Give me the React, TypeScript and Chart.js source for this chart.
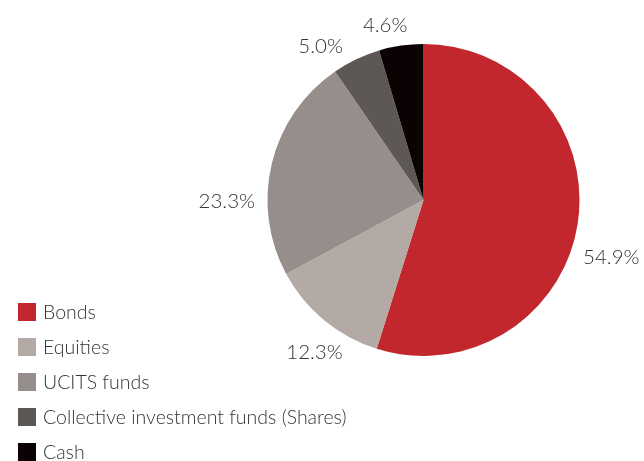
import React, { useEffect, useRef } from "react";
import { Chart, registerables } from "chart.js";

Chart.register(...registerables);

const categories = ["Bonds", "Equities", "UCITS funds", "Collective investment funds (Shares)", "Cash"];
const shares = [54.9, 12.3, 23.3, 5.0, 4.6];
const valueLabels = ["54.9%", "12.3%", "23.3%", "5.0%", "4.6%"];
const sliceColors = ["#C1272D", "#B3A9A5", "#968E8A", "#5D5756", "#0A0203"];

const FONT = "Lato, 'Open Sans', sans-serif";
const TEXT_COLOR = "#333333";
// per-label offsets (px) from the point at radius + 34 along each slice's mid-angle
const LABEL_NUDGE: [number, number][] = [
  [0, 29],
  [12, 6],
  [-12, 46],
  [-21, 18],
  [-11, 13],
];

const labelPlugin = {
  id: "outsideLabels",
  afterDatasetsDraw(chart: any) {
    const ctx = chart.ctx;
    const meta = chart.getDatasetMeta(0);
    ctx.save();
    ctx.font = `300 20.5px ${FONT}`;
    ctx.fillStyle = TEXT_COLOR;
    ctx.textAlign = "center";
    ctx.textBaseline = "middle";
    meta.data.forEach((arc: any, i: number) => {
      const { x, y, startAngle, endAngle, outerRadius } = arc.getProps(
        ["x", "y", "startAngle", "endAngle", "outerRadius"],
        true
      );
      const mid = (startAngle + endAngle) / 2;
      const r = outerRadius + 34;
      const [dx, dy] = LABEL_NUDGE[i] || [0, 0];
      ctx.fillText(valueLabels[i], x + Math.cos(mid) * r + dx, y + Math.sin(mid) * r + dy);
    });
    ctx.restore();
  },
};

const legendPlugin = {
  id: "customLegend",
  afterDraw(chart: any) {
    const ctx = chart.ctx;
    const colors = chart.data.datasets[0].backgroundColor;
    ctx.save();
    ctx.font = `300 19.5px ${FONT}`;
    ctx.textAlign = "left";
    ctx.textBaseline = "middle";
    (chart.data.labels as string[]).forEach((lab, i) => {
      const cy = 312 + i * 35;
      ctx.fillStyle = colors[i];
      ctx.fillRect(18, cy - 9, 18, 18);
      ctx.fillStyle = TEXT_COLOR;
      ctx.fillText(lab, 43, cy + 1);
    });
    ctx.restore();
  },
};

export default function App() {
  const ref = useRef<HTMLCanvasElement | null>(null);
  useEffect(() => {
    document.body.style.margin = "0";
    const chart = new Chart(ref.current!, {
      type: "pie",
      data: {
        labels: categories,
        datasets: [
          {
            data: shares,
            backgroundColor: sliceColors,
            borderWidth: 0,
          },
        ],
      },
      options: {
        animation: false,
        responsive: false,
        maintainAspectRatio: false,
        layout: { padding: { left: 267.5, right: 64.5, top: 44, bottom: 105 } },
        plugins: {
          legend: { display: false },
          tooltip: { enabled: false },
        },
      },
      plugins: [labelPlugin, legendPlugin],
    });
    return () => chart.destroy();
  }, []);
  return (
    <div style={{ width: 644, height: 461, background: "#fff" }}>
      <canvas ref={ref} width={644} height={461} />
    </div>
  );
}
